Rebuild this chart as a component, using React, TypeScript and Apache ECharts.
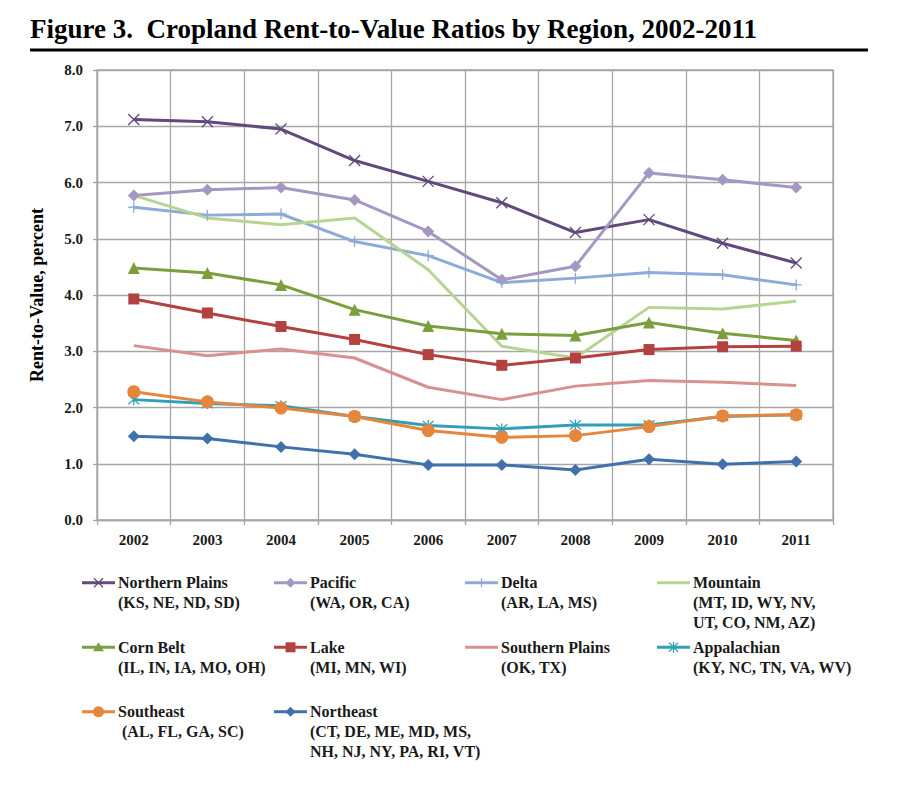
import React, { useEffect, useRef } from 'react';
import * as echarts from 'echarts';

const FONT = 'Liberation Serif, serif';
const GRID_COLOR = '#a6a6a6';

const years = ['2002', '2003', '2004', '2005', '2006', '2007', '2008', '2009', '2010', '2011'];

const northernPlains = [7.12, 7.08, 6.95, 6.39, 6.02, 5.64, 5.11, 5.34, 4.92, 4.57];
const pacific = [5.77, 5.87, 5.91, 5.69, 5.13, 4.27, 4.51, 6.17, 6.05, 5.91];
const delta = [5.56, 5.42, 5.44, 4.95, 4.7, 4.22, 4.3, 4.4, 4.36, 4.18];
const mountain = [5.77, 5.37, 5.25, 5.37, 4.45, 3.09, 2.88, 3.78, 3.75, 3.89];
const cornBelt = [4.48, 4.39, 4.18, 3.74, 3.45, 3.31, 3.28, 3.51, 3.32, 3.19];
const lake = [3.93, 3.68, 3.44, 3.21, 2.94, 2.75, 2.88, 3.03, 3.08, 3.09];
const southernPlains = [3.1, 2.92, 3.04, 2.88, 2.36, 2.14, 2.38, 2.48, 2.45, 2.39];
const appalachian = [2.14, 2.07, 2.03, 1.84, 1.68, 1.62, 1.69, 1.69, 1.84, 1.87];
const southeast = [2.28, 2.1, 1.99, 1.84, 1.59, 1.47, 1.5, 1.66, 1.85, 1.87];
const northeast = [1.49, 1.45, 1.3, 1.17, 0.98, 0.98, 0.89, 1.08, 0.99, 1.04];

const yTicks = ['0.0', '1.0', '2.0', '3.0', '4.0', '5.0', '6.0', '7.0', '8.0'];

type Marker = 'x' | 'diamond' | 'plus' | 'none' | 'triangle' | 'rect' | 'star' | 'circle';

interface Region {
  name: string;
  states: string[];
  data: number[];
  color: string;
  marker: Marker;
  col: number;
  row: number;
}

const regions: Region[] = [
  { name: 'Northern Plains', states: ['(KS, NE, ND, SD)'], data: northernPlains, color: '#60497b', marker: 'x', col: 0, row: 0 },
  { name: 'Pacific', states: ['(WA, OR, CA)'], data: pacific, color: '#a597c3', marker: 'diamond', col: 1, row: 0 },
  { name: 'Delta', states: ['(AR, LA, MS)'], data: delta, color: '#8eaad9', marker: 'plus', col: 2, row: 0 },
  { name: 'Mountain', states: ['(MT, ID, WY, NV,', 'UT, CO, NM, AZ)'], data: mountain, color: '#b8d492', marker: 'none', col: 3, row: 0 },
  { name: 'Corn Belt', states: ['(IL, IN, IA, MO, OH)'], data: cornBelt, color: '#7b9f3e', marker: 'triangle', col: 0, row: 1 },
  { name: 'Lake', states: ['(MI, MN, WI)'], data: lake, color: '#b3413f', marker: 'rect', col: 1, row: 1 },
  { name: 'Southern Plains', states: ['(OK, TX)'], data: southernPlains, color: '#d9908f', marker: 'none', col: 2, row: 1 },
  { name: 'Appalachian', states: ['(KY, NC, TN, VA, WV)'], data: appalachian, color: '#31a0b7', marker: 'star', col: 3, row: 1 },
  { name: 'Southeast', states: [' (AL, FL, GA, SC)'], data: southeast, color: '#e6863a', marker: 'circle', col: 0, row: 2 },
  { name: 'Northeast', states: ['(CT, DE, ME, MD, MS,', 'NH, NJ, NY, PA, RI, VT)'], data: northeast, color: '#4170ad', marker: 'diamond', col: 1, row: 2 },
];

const seriesSymbol: Record<Marker, { symbol: string; size: number; stroke: boolean }> = {
  x: { symbol: 'path://M0,0L10,10M10,0L0,10', size: 11, stroke: true },
  diamond: { symbol: 'diamond', size: 12, stroke: false },
  plus: { symbol: 'path://M5,0L5,10M0,5L10,5', size: 11, stroke: true },
  none: { symbol: 'none', size: 0, stroke: false },
  triangle: { symbol: 'triangle', size: 12, stroke: false },
  rect: { symbol: 'rect', size: 11, stroke: false },
  star: { symbol: 'path://M0,0L10,10M10,0L0,10M5,-1L5,11', size: 11, stroke: true },
  circle: { symbol: 'circle', size: 13, stroke: false },
};

const legendCols = [82, 274, 465, 657];
const legendRows = [582.7, 647.3, 711.7];

function legendMarker(m: Marker, cx: number, cy: number, color: string): any[] {
  const s = 4.5;
  const lw = 1.3;
  switch (m) {
    case 'x':
      return [
        { type: 'line', shape: { x1: cx - s, y1: cy - s, x2: cx + s, y2: cy + s }, style: { stroke: color, lineWidth: lw } },
        { type: 'line', shape: { x1: cx - s, y1: cy + s, x2: cx + s, y2: cy - s }, style: { stroke: color, lineWidth: lw } },
      ];
    case 'plus':
      return [{ type: 'line', shape: { x1: cx, y1: cy - s, x2: cx, y2: cy + s }, style: { stroke: color, lineWidth: lw } }];
    case 'star':
      return [
        { type: 'line', shape: { x1: cx - s, y1: cy - s, x2: cx + s, y2: cy + s }, style: { stroke: color, lineWidth: lw } },
        { type: 'line', shape: { x1: cx - s, y1: cy + s, x2: cx + s, y2: cy - s }, style: { stroke: color, lineWidth: lw } },
        { type: 'line', shape: { x1: cx, y1: cy - s - 1, x2: cx, y2: cy + s + 1 }, style: { stroke: color, lineWidth: lw } },
      ];
    case 'diamond':
      return [{ type: 'polygon', shape: { points: [[cx, cy - 5], [cx + 5, cy], [cx, cy + 5], [cx - 5, cy]] }, style: { fill: color } }];
    case 'triangle':
      return [{ type: 'polygon', shape: { points: [[cx, cy - 5], [cx + 5.5, cy + 4], [cx - 5.5, cy + 4]] }, style: { fill: color } }];
    case 'rect':
      return [{ type: 'rect', shape: { x: cx - 5, y: cy - 5, width: 10, height: 10 }, style: { fill: color } }];
    case 'circle':
      return [{ type: 'circle', shape: { cx, cy, r: 5.5 }, style: { fill: color } }];
    default:
      return [];
  }
}

function buildLegend(): any[] {
  const out: any[] = [];
  regions.forEach((r) => {
    const x0 = legendCols[r.col];
    const y0 = legendRows[r.row];
    out.push({ type: 'line', shape: { x1: x0, y1: y0, x2: x0 + 33, y2: y0 }, style: { stroke: r.color, lineWidth: 3 } });
    out.push(...legendMarker(r.marker, x0 + 16.5, y0, r.color));
    [r.name, ...r.states].forEach((line, i) => {
      out.push({
        type: 'text',
        x: x0 + 36,
        y: y0 + i * 20,
        style: { text: line, font: `bold 16px ${FONT}`, fill: '#1a1a1a', align: 'left', verticalAlign: 'middle' },
      });
    });
  });
  return out;
}

export default function App() {
  const ref = useRef<HTMLDivElement>(null);

  useEffect(() => {
    if (!ref.current) return;
    const chart = echarts.init(ref.current, undefined, { renderer: 'svg' });

    const series = regions.map((r) => {
      const sym = seriesSymbol[r.marker];
      return {
        name: r.name,
        type: 'line',
        data: r.data,
        symbol: sym.symbol,
        symbolSize: sym.size,
        showSymbol: r.marker !== 'none',
        lineStyle: { color: r.color, width: 3 },
        itemStyle: sym.stroke
          ? { color: 'none', borderColor: r.color, borderWidth: 1.3 }
          : { color: r.color, borderWidth: 0 },
        emphasis: { disabled: true },
      };
    });

    chart.setOption({
      animation: false,
      backgroundColor: '#ffffff',
      textStyle: { fontFamily: FONT },
      grid: {
        left: 97,
        right: 67,
        top: 70,
        height: 450,
        show: true,
        borderColor: GRID_COLOR,
        borderWidth: 1.3,
      },
      xAxis: {
        type: 'category',
        data: years,
        boundaryGap: true,
        axisLine: { show: true, lineStyle: { color: GRID_COLOR, width: 1.3 } },
        axisTick: { show: true, length: 5, lineStyle: { color: GRID_COLOR, width: 1.3 } },
        splitLine: { show: true, lineStyle: { color: GRID_COLOR, width: 1.3 } },
        axisLabel: { color: '#1a1a1a', fontFamily: FONT, fontSize: 15, fontWeight: 'bold', margin: 12 },
      },
      yAxis: {
        type: 'value',
        min: 0,
        max: 8,
        interval: 1,
        axisLine: { show: true, lineStyle: { color: GRID_COLOR, width: 1.3 } },
        axisTick: { show: true, length: 4, lineStyle: { color: GRID_COLOR, width: 1.3 } },
        splitLine: { show: true, lineStyle: { color: GRID_COLOR, width: 1.3 } },
        axisLabel: {
          color: '#1a1a1a',
          fontFamily: FONT,
          fontSize: 15,
          fontWeight: 'bold',
          margin: 14,
          formatter: (v: number) => yTicks[Math.round(v)] ?? v.toFixed(1),
        },
      },
      series,
      graphic: [
        {
          type: 'text',
          x: 30,
          y: 29,
          style: {
            text: 'Figure 3.  Cropland Rent-to-Value Ratios by Region, 2002-2011',
            font: `bold 27px ${FONT}`,
            fill: '#000',
            align: 'left',
            verticalAlign: 'middle',
          },
        },
        { type: 'line', shape: { x1: 30, y1: 50, x2: 868, y2: 50 }, style: { stroke: '#000', lineWidth: 3 } },
        {
          type: 'text',
          x: 37,
          y: 295,
          rotation: Math.PI / 2,
          style: {
            text: 'Rent-to-Value, percent',
            font: `bold 18px ${FONT}`,
            fill: '#000',
            align: 'center',
            verticalAlign: 'middle',
          },
        },
        ...buildLegend(),
      ],
    });

    return () => chart.dispose();
  }, []);

  return <div ref={ref} style={{ position: 'absolute', left: 0, top: 0, width: 900, height: 789 }} />;
}
